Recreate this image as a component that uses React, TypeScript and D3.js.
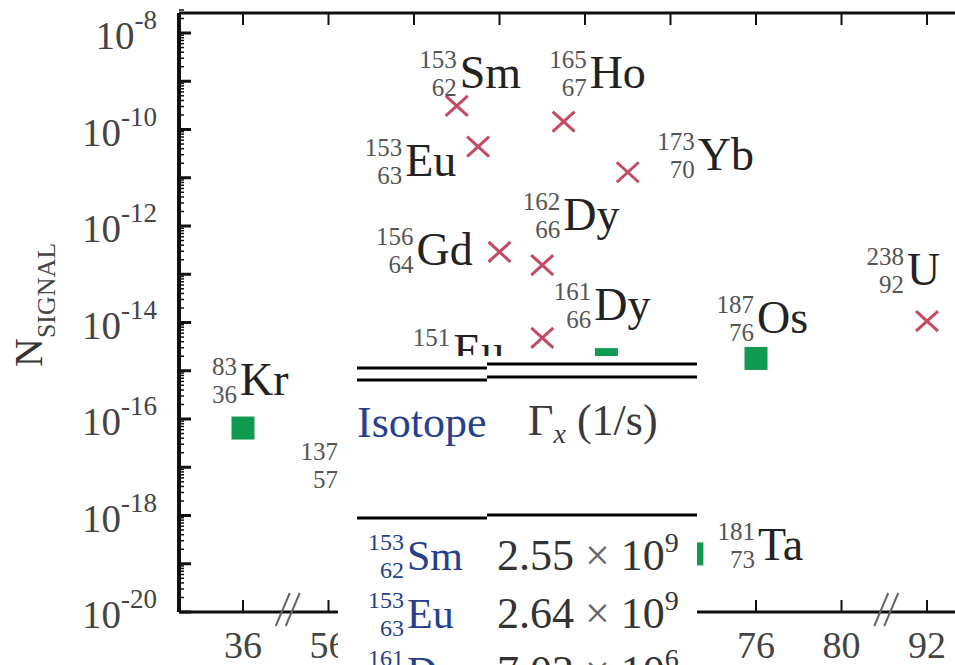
import React from "react";
import * as d3 from "d3";

// ---------- data ----------
const zTicks = [36, 56, 60, 64, 68, 72, 76, 80, 92];
const yTickExponents = [-8, -10, -12, -14, -16, -18, -20];

const isoSymbol = ["Kr", "La", "Sm", "Eu", "Eu", "Gd", "Dy", "Dy", "Ho", "Tm", "Yb", "Ta", "Os", "U"];
const isoMass = [83, 137, 153, 153, 151, 156, 161, 162, 165, 169, 173, 181, 187, 238];
const isoZ = [36, 57, 62, 63, 63, 64, 66, 66, 67, 69, 70, 73, 76, 92];
const nSignal = [6.5e-17, 2.1e-18, 3.1e-10, 4.4e-11, 4.0e-16, 2.9e-13, 4.8e-15, 1.55e-13, 1.45e-10, 1.7e-15, 1.3e-11, 1.6e-19, 1.8e-15, 1.07e-14];
const markerKind = ["square", "square", "cross", "cross", "cross", "cross", "cross", "cross", "cross", "square", "cross", "square", "square", "cross"];

const tableSymbol = ["Sm", "Eu", "Dy"];
const tableMass = [153, 153, 161];
const tableZ = [62, 63, 66];
const tableMantissa = ["2.55", "2.64", "7.02"];
const tableExponent = ["9", "9", "6"];

// ---------- layout (label offsets in px relative to marker) ----------
const labelOffset: ([number, number] | null)[] = [
  [-3, -33], [-9, -20], [3, -18], [-73, 29], [-25, -24], [-83, 13], [52, -18],
  [21, -35], [26, -34], null, [70, -2], [66, 6], [1, -25], [-20, -36],
];

const W = 955, H = 665;
const left = 179, top = 13, bottom = 612, right = 965;
const FONT = "Liberation Serif";
const RED = "#c44a62";
const GREEN = "#109a50";
const BLUE = "#26408e";

const x = d3.scaleLinear().domain(zTicks).range(zTicks.map((_, i) => 243 + i * 85.5));
const y = d3.scaleLog().domain([1e-20, 1e-8]).range([612, 33]);

function Nuclide({ xs, yb, mass, z, sym, big = 46, small = 25, color = "#222", subColor = "#555" }: any) {
  return (
    <g>
      <text x={xs - 3} y={yb - 20} fontSize={small} textAnchor="end" fill={subColor} style={{ fontFamily: FONT }}>{mass}</text>
      <text x={xs - 3} y={yb + 8} fontSize={small} textAnchor="end" fill={subColor} style={{ fontFamily: FONT }}>{z}</text>
      <text x={xs} y={yb} fontSize={big} fill={color} style={{ fontFamily: FONT }}>{sym}</text>
    </g>
  );
}

export default function App() {
  const minor: number[] = [];
  for (let e = -20; e < -8; e++) for (let k = 2; k <= 9; k++) minor.push(k * Math.pow(10, e));
  for (let k = 2; k <= 3; k++) minor.push(k * 1e-8);
  const majors = d3.range(-20, -7).map((e) => Math.pow(10, e));
  const breaks = [(x(36) + x(56)) / 2, (x(80) + x(92)) / 2];
  const ff = { fontFamily: FONT };

  return (
    <svg width={W} height={H} style={{ position: "absolute", left: 0, top: 0, background: "#fff" }}>
      <rect x={0} y={0} width={W} height={H} fill="#fff" />
      {/* frame */}
      <line x1={left} x2={left} y1={top} y2={bottom} stroke="#111" strokeWidth={4} />
      <line x1={left} x2={right} y1={top} y2={top} stroke="#111" strokeWidth={3} />
      <line x1={left} x2={right} y1={bottom} y2={bottom} stroke="#111" strokeWidth={3} />
      {/* y ticks */}
      {majors.map((v, i) => (
        <line key={"M" + i} x1={left} x2={left + 12} y1={y(v)} y2={y(v)} stroke="#111" strokeWidth={3} />
      ))}
      {minor.map((v, i) => (
        <line key={"m" + i} x1={left} x2={left + 5} y1={y(v)} y2={y(v)} stroke="#111" strokeWidth={1.5} />
      ))}
      {yTickExponents.map((e) => (
        <text key={e} x={157} y={y(Math.pow(10, e)) + 16} textAnchor="end" fontSize={39} fill="#444" style={ff}>
          10<tspan fontSize={27} dy={-20}>{String(e)}</tspan>
        </text>
      ))}
      {/* x ticks */}
      {zTicks.map((z) => (
        <g key={z}>
          <line x1={x(z)} x2={x(z)} y1={top} y2={top + 12} stroke="#111" strokeWidth={2} />
          <line x1={x(z)} x2={x(z)} y1={bottom} y2={bottom - 12} stroke="#111" strokeWidth={2} />
          <text x={x(z)} y={658} textAnchor="middle" fontSize={38} fill="#444" style={ff}>{z}</text>
        </g>
      ))}
      {breaks.map((bx, i) => (
        <g key={i} stroke="#666" strokeWidth={2}>
          <line x1={bx - 10} y1={bottom + 14} x2={bx + 4} y2={bottom - 19} />
          <line x1={bx} y1={bottom + 14} x2={bx + 14} y2={bottom - 19} />
        </g>
      ))}
      {/* y axis title */}
      <text transform="translate(42,367) rotate(-90)" fontSize={40} fill="#333" style={ff}>
        N<tspan fontSize={26} dy={13} fill="#444">SIGNAL</tspan>
      </text>
      {/* markers */}
      {isoZ.map((z, i) => {
        const cx = x(z), cy = y(nSignal[i]);
        return markerKind[i] === "square" ? (
          <rect key={i} x={cx - 11.5} y={cy - 11.5} width={23} height={23} fill={GREEN} />
        ) : (
          <g key={i} stroke={RED} strokeWidth={3}>
            <line x1={cx - 11} y1={cy - 10} x2={cx + 11} y2={cy + 10} />
            <line x1={cx - 11} y1={cy + 10} x2={cx + 11} y2={cy - 10} />
          </g>
        );
      })}
      {/* labels */}
      {isoZ.map((z, i) => {
        const o = labelOffset[i];
        if (!o) return null;
        return <Nuclide key={i} xs={x(z) + o[0]} yb={y(nSignal[i]) + o[1]} mass={isoMass[i]} z={z} sym={isoSymbol[i]} />;
      })}
      {/* table overlay */}
      <rect x={338} y={356} width={359} height={H - 356} fill="#fff" />
      <g stroke="#000" strokeWidth={3}>
        <line x1={357} x2={487} y1={368} y2={368} />
        <line x1={357} x2={487} y1={380} y2={380} />
        <line x1={487} x2={697} y1={364} y2={364} />
        <line x1={487} x2={697} y1={377} y2={377} />
        <line x1={357} x2={487} y1={518} y2={518} />
        <line x1={487} x2={697} y1={515} y2={515} />
      </g>
      <text x={357} y={437} fontSize={44} fill={BLUE} style={ff}>Isotope</text>
      <text x={528} y={435} fontSize={44} fill="#3a3a3a" style={ff}>
        Γ<tspan fontSize={28} fontStyle="italic" dy={8}>x</tspan>
        <tspan dy={-8}> (1/s)</tspan>
      </text>
      {tableSymbol.map((s, i) => {
        const yb = 570 + i * 58;
        return (
          <g key={i}>
            <Nuclide xs={407} yb={yb} mass={tableMass[i]} z={tableZ[i]} sym={s} big={42} small={24} color={BLUE} subColor={BLUE} />
            <text x={497} y={yb} fontSize={44} fill="#333" style={ff}>
              {tableMantissa[i]}<tspan fill="#666"> × </tspan>10
              <tspan fontSize={28} dy={-18}>{tableExponent[i]}</tspan>
            </text>
          </g>
        );
      })}
    </svg>
  );
}
